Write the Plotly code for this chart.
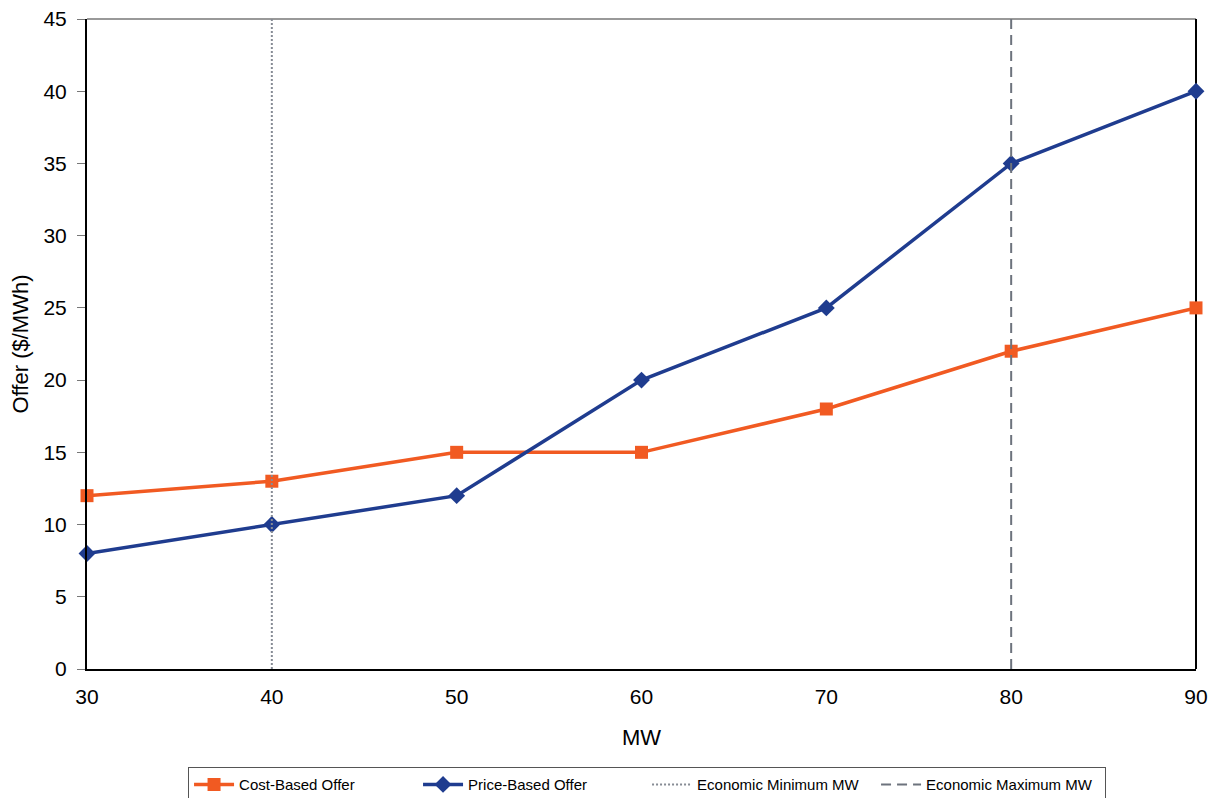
import plotly.graph_objects as go

mw = [30, 40, 50, 60, 70, 80, 90]
cost_based = [12, 13, 15, 15, 18, 22, 25]
price_based = [8, 10, 12, 20, 25, 35, 40]
econ_min_mw = 40
econ_max_mw = 80
y_min, y_max = 0, 45
x_ticks = [30, 40, 50, 60, 70, 80, 90]
y_ticks = [0, 5, 10, 15, 20, 25, 30, 35, 40, 45]

ORANGE = "#F15A22"
BLUE = "#1F3C8F"
FONT = "Liberation Sans, Arial, sans-serif"

fig = go.Figure()
fig.add_trace(go.Scatter(x=mw, y=cost_based, name="Cost-Based Offer", mode="lines+markers",
                         line=dict(color=ORANGE, width=3.5), cliponaxis=False,
                         marker=dict(symbol="square", size=13, color=ORANGE)))
fig.add_trace(go.Scatter(x=mw, y=price_based, name="Price-Based Offer", mode="lines+markers",
                         line=dict(color=BLUE, width=3.5), cliponaxis=False,
                         marker=dict(symbol="diamond", size=13, color=BLUE)))
fig.add_trace(go.Scatter(x=[econ_min_mw, econ_min_mw], y=[y_min, y_max], name="Economic Minimum MW",
                         mode="lines", line=dict(color="#868B94", width=2, dash="2px,2px")))
fig.add_trace(go.Scatter(x=[econ_max_mw, econ_max_mw], y=[y_min, y_max], name="Economic Maximum MW",
                         mode="lines", line=dict(color="#6D737D", width=2, dash="10px,6px")))

# top (gray) and right (black) frame edges
fig.add_shape(type="line", xref="x domain", yref="y domain", x0=0, x1=1, y0=1, y1=1,
              line=dict(color="#999999", width=2), layer="below")
fig.add_shape(type="line", xref="x domain", yref="y domain", x0=1, x1=1, y0=0, y1=1,
              line=dict(color="black", width=2), layer="below")

fig.update_layout(
    width=1210, height=790,
    margin=dict(l=79, r=22, t=11, b=129, autoexpand=False),
    paper_bgcolor="white", plot_bgcolor="white",
    font=dict(family=FONT, size=18, color="black"),
    showlegend=True,
    legend=dict(orientation="h", x=0.505, xanchor="center", y=-0.151, yanchor="top",
                bordercolor="#555555", borderwidth=1, bgcolor="white",
                font=dict(size=15), entrywidth=174, entrywidthmode="pixels",
                itemwidth=40, tracegroupgap=0),
    xaxis=dict(range=[30, 90], tickvals=x_ticks, showgrid=False, zeroline=False,
               showline=True, linecolor="black", linewidth=2, ticks="",
               automargin=False, ticklabelstandoff=8, ticklabeloverflow="allow",
               title=dict(text="MW", standoff=22), tickfont=dict(size=21)),
    yaxis=dict(range=[y_min, y_max], tickvals=y_ticks, showgrid=False, zeroline=False,
               showline=True, linecolor="black", linewidth=2, ticks="outside",
               ticklen=8, tickcolor="#777777", tickwidth=1, automargin=False,
               ticklabelstandoff=6, ticklabeloverflow="allow",
               title=dict(text="Offer ($/MWh)", standoff=9), tickfont=dict(size=21)),
)

fig.write_html("out.html")
